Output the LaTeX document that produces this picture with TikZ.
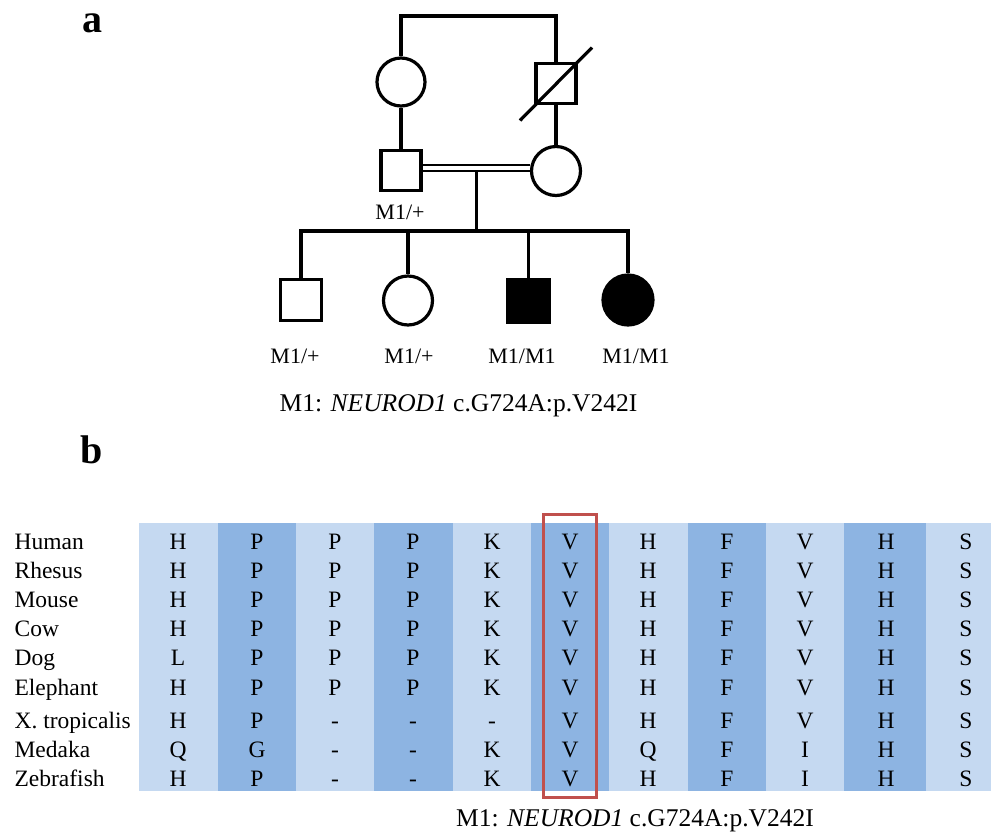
\documentclass[tikz,border=0pt]{standalone}
\usepackage{fontspec}
\setmainfont{Liberation Serif}
\definecolor{lightcol}{RGB}{197,217,241}
\definecolor{darkcol}{RGB}{141,180,226}
\definecolor{boxred}{RGB}{192,80,77}
\begin{document}
\begin{tikzpicture}[x=1pt,y=-1pt,
  line width=3.2pt,
  male/.style={draw, rectangle, minimum size=40pt, inner sep=0pt},
  female/.style={draw, circle, minimum size=48pt, inner sep=0pt},
  affected/.style={fill=black},
  geno/.style={font=\fontsize{22}{26}\selectfont, anchor=base, inner sep=0pt},
  caption/.style={font=\fontsize{25.5}{30}\selectfont, anchor=base, inner sep=0pt},
  panel/.style={font=\fontsize{40}{44}\selectfont\bfseries, anchor=base, inner sep=0pt},
  species/.style={font=\fontsize{23.5}{28}\selectfont, anchor=base west, inner sep=0pt},
  residue/.style={font=\fontsize{23.5}{28}\selectfont, anchor=base, inner sep=0pt},
  dbl/.style={line width=2.6pt}
]
\useasboundingbox (0,0) rectangle (991,831);

% ---------- panel a: pedigree ----------
\node[panel] (la) at (92,32) {a};

% generation I
\node[female] (gm) at (401,82) {};
\node[male] (gf) at (556,83.5) {};
\draw ([shift={(-36,37)}]gf.center) -- ([shift={(36,-36)}]gf.center);
\coordinate (top) at (478,16);
\draw (gm.north) -- (gm |- top) -- (gf |- top) -- (gf.north);

% generation II
\node[male] (fa) at (401,170.5) {};
\node[female, minimum size=49pt] (mo) at (556,171) {};
\draw (gm.south) -- (fa.north);
\draw (gf.south) -- (mo.north);
\node[geno] (gfa) at (400,219) {M1/+};

% consanguineous marriage line
\coordinate (mu) at (476.5,165);
\coordinate (ml) at (476.5,171);
\draw[dbl] (fa.east |- mu) -- (mo.west |- mu);
\draw[dbl] (fa.east |- ml) -- (mo.west |- ml);

% generation III
\coordinate (sib) at (476.5,231);
\draw (ml) -- (sib);
\node[male, minimum size=41pt] (c1) at (301,300) {};
\node[female, minimum size=49pt] (c2) at (408,300.5) {};
\node[male, affected, minimum size=42pt] (c3) at (528.5,301) {};
\node[female, affected, minimum size=50pt] (c4) at (628,300) {};
\draw (c1.north) -- (c1 |- sib) -- (c4 |- sib) -- (c4.north);
\draw (c2 |- sib) -- (c2.north);
\draw (c3 |- sib) -- (c3.north);

\node[geno] (g1) at (295,363) {M1/+};
\node[geno] (g2) at (409,363) {M1/+};
\node[geno] (g3) at (522,363) {M1/M1};
\node[geno] (g4) at (636,363) {M1/M1};

\node[caption] (capa) at (458.5,411) {M1: \textit{NEUROD1} c.G724A:p.V242I};

% ---------- panel b: conservation ----------
\node[panel] (lb) at (92,463) {b};

\foreach \l/\r/\c in {139/218/lightcol, 218/296/darkcol, 296/374/lightcol,
    374/453/darkcol, 453/531/lightcol, 531/609/darkcol, 609/688/lightcol,
    688/766/darkcol, 766/844/lightcol, 844/926/darkcol, 926/991/lightcol}
  \fill[\c] (\l,523) rectangle (\r,791);

\def\colx{{178,257,335,413,492,570,648,727,805,886,966}}
\foreach \sp/\yy/\seq [count=\r] in {
    Human/541/{H,P,P,P,K,V,H,F,V,H,S},
    Rhesus/570/{H,P,P,P,K,V,H,F,V,H,S},
    Mouse/599/{H,P,P,P,K,V,H,F,V,H,S},
    Cow/628/{H,P,P,P,K,V,H,F,V,H,S},
    Dog/657/{L,P,P,P,K,V,H,F,V,H,S},
    Elephant/687/{H,P,P,P,K,V,H,F,V,H,S},
    X. tropicalis/720/{H,P,-,-,-,V,H,F,V,H,S},
    Medaka/749/{Q,G,-,-,K,V,Q,F,I,H,S},
    Zebrafish/778/{H,P,-,-,K,V,H,F,I,H,S}}
{
  \node[species] (sp-\r) at (13,\yy+8) {\sp};
  \foreach \aa [count=\i from 0] in \seq {
    \pgfmathsetmacro\xx{\colx[\i]}
    \node[residue] (res-\r-\i) at (\xx,\yy+8) {\aa};
  }
}

% highlighted position
\draw[boxred, line width=3pt] (543.2,514.2) rectangle (596.2,797.5);

\node[caption] (capb) at (635,826) {M1: \textit{NEUROD1} c.G724A:p.V242I};
\end{tikzpicture}
\end{document}
